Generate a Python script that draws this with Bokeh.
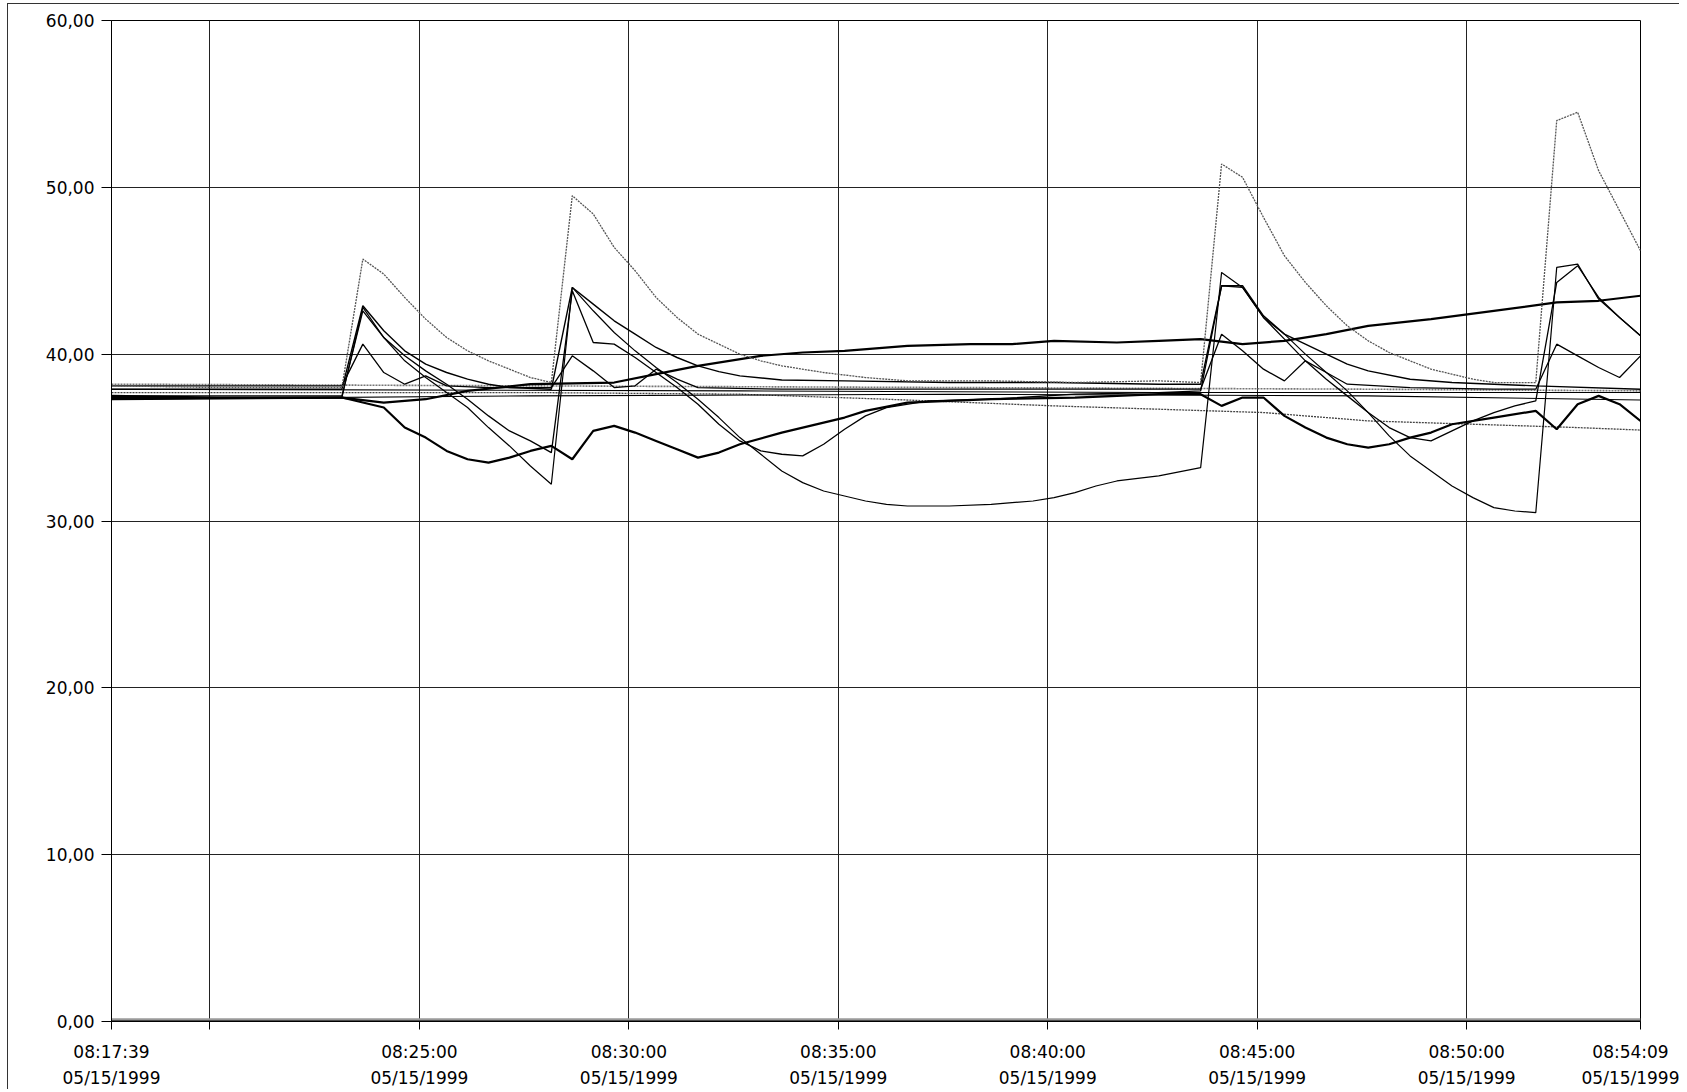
import pandas as pd
from bokeh.plotting import figure
from bokeh.models import Range1d, FixedTicker
from bokeh.embed import file_html
from bokeh.resources import INLINE

# ---------------- data ----------------
DAY = "1999-05-15"
DATE_LABEL = "05/15/1999"
T_START = "08:17:39"
T_END = "08:54:09"
STEP_SECONDS = 30  # one sample every 30 s; *_K lists are sample numbers

X_TICKS = ["08:17:39", "08:20:00", "08:25:00", "08:30:00", "08:35:00",
           "08:40:00", "08:45:00", "08:50:00", "08:54:09"]
X_TICK_SHOWN = [True, False, True, True, True, True, True, True, True]
Y_TICKS = [0, 10, 20, 30, 40, 50, 60]
Y_TICK_LABELS = ["0,00", "10,00", "20,00", "30,00", "40,00", "50,00", "60,00"]

S1_K = [0, 5, 11, 12, 13, 14, 15, 16, 17, 18, 19, 20, 21, 22, 23, 24, 25, 26, 27, 28, 29, 30, 31, 32,
        34, 36, 38, 42, 46, 50, 52, 53, 54, 55, 56, 57, 58, 59, 60, 61, 62, 63, 64, 65, 66,
        68, 69, 70, 71, 72, 73]
S1_V = [38.1, 38.0, 38.0, 45.7, 44.8, 43.4, 42.1, 41.0, 40.2, 39.6, 39.1, 38.6, 38.3,
        49.5, 48.4, 46.4, 45.0, 43.4, 42.2, 41.2, 40.6, 40.0, 39.6, 39.3,
        38.9, 38.6, 38.4, 38.4, 38.3, 38.4, 38.3,
        51.4, 50.6, 48.2, 45.9, 44.3, 42.9, 41.7, 40.8, 40.1, 39.6, 39.1, 38.8, 38.5, 38.3,
        38.3, 54.0, 54.5, 51.0, 48.6, 46.2]

S2_K = [0, 11, 12, 13, 14, 15, 16, 17, 18, 19, 21, 22, 23, 24, 25, 26, 27, 28, 29, 30,
        32, 35, 40, 45, 50, 52, 53, 54, 55, 56, 57, 58, 59, 60, 62, 64, 66, 68, 73]
S2_V = [37.9, 37.9, 42.9, 41.4, 40.2, 39.4, 38.9, 38.5, 38.2, 38.0, 37.9,
        44.0, 43.0, 42.0, 41.2, 40.4, 39.8, 39.3, 38.95, 38.7,
        38.45, 38.4, 38.3, 38.3, 38.2, 38.2,
        44.1, 44.1, 42.3, 41.2, 40.6, 40.0, 39.4, 39.0,
        38.5, 38.3, 38.2, 38.1, 37.9]

S3_K = [0, 11, 12, 13, 14, 15, 16, 17, 18, 19, 20, 21, 22, 23, 24, 25, 26, 27, 28, 29, 30, 31, 32, 33,
        34, 35, 36, 37, 39, 42, 46, 50, 52, 53, 54, 55, 56, 57, 58, 59, 60, 61, 62, 63, 64, 65, 66,
        67, 68, 69, 70, 71, 72, 73]
S3_V = [37.5, 37.5, 42.6, 41.0, 39.9, 39.0, 38.2, 37.3, 36.3, 35.4, 34.8, 34.1,
        43.8, 40.7, 40.6, 39.8, 38.9, 38.0, 37.0, 35.8, 34.8, 34.2, 34.0, 33.9,
        34.6, 35.5, 36.3, 36.8, 37.2, 37.3, 37.6, 37.7, 37.8,
        44.1, 44.0, 42.2, 40.9, 39.6, 38.5, 37.5, 36.5, 35.6, 35.0, 34.8, 35.4, 36.0, 36.5,
        36.9, 37.2, 44.3, 45.3, 43.4, 42.2, 41.1]

S4_K = [0, 11, 12, 13, 14, 15, 16, 18, 21, 22, 23, 24, 25, 26, 27, 28, 32, 40, 46, 52,
        53, 54, 55, 56, 57, 58, 59, 62, 66, 68, 69, 70, 71, 72, 73]
S4_V = [38.1, 38.1, 40.6, 38.9, 38.2, 38.7, 38.1, 38.0, 38.0,
        39.9, 39.0, 38.0, 38.1, 39.1, 38.5, 38.0, 37.9, 37.9, 37.9, 37.9,
        41.2, 40.2, 39.1, 38.4, 39.6, 38.9, 38.2, 38.0, 37.9, 37.9,
        40.6, 39.9, 39.2, 38.6, 39.9]

S5_K = [0, 11, 12, 13, 14, 15, 16, 17, 18, 19, 20, 21, 22, 23, 24, 25, 26, 27, 28, 29, 30,
        31, 32, 33, 34, 35, 36, 37, 38, 40, 42, 44, 45, 46, 47, 48, 50, 52,
        53, 54, 55, 56, 57, 58, 59, 60, 61, 62, 63, 64, 65, 66, 67, 68, 69, 70, 71, 72, 73]
S5_V = [37.4, 37.4, 42.8, 41.0, 39.6, 38.6, 37.7, 36.8, 35.6, 34.5, 33.3, 32.2,
        44.0, 42.6, 41.3, 40.2, 39.2, 38.3, 37.3, 36.2, 35.0, 34.0, 33.0, 32.3, 31.8, 31.5,
        31.2, 31.0, 30.9, 30.9, 31.0, 31.2, 31.4, 31.7, 32.1, 32.4, 32.7, 33.2,
        44.9, 44.0, 42.2, 41.2, 40.0, 38.9, 37.8, 36.5, 35.1, 33.9, 33.0, 32.1, 31.4, 30.8,
        30.6, 30.5, 45.2, 45.4, 43.3, 42.2, 41.1]

Q_K = [0, 11, 12, 13, 14, 15, 16, 17, 18, 19, 20, 21, 22, 23, 24, 25, 26, 27, 28, 29, 30,
       32, 34, 35, 36, 38, 40, 42, 46, 50, 52, 53, 54, 55, 56, 57, 58, 59, 60, 61, 62, 63, 64,
       66, 68, 69, 70, 71, 72, 73]
Q_V = [37.3, 37.4, 37.1, 36.8, 35.6, 35.0, 34.2, 33.7, 33.5, 33.8, 34.2, 34.5, 33.7, 35.4,
       35.7, 35.3, 34.8, 34.3, 33.8, 34.1, 34.6,
       35.3, 35.9, 36.2, 36.6, 37.1, 37.2, 37.3, 37.4, 37.6, 37.6,
       36.9, 37.4, 37.4, 36.3, 35.6, 35.0, 34.6, 34.4, 34.6, 35.0, 35.3, 35.8,
       36.2, 36.6, 35.5, 37.0, 37.5, 37.0, 36.0]

R_K = [0, 5, 11, 13, 15, 17, 20, 24, 26, 28, 31, 33, 35, 38, 41, 43, 45, 48, 50, 52,
       54, 56, 58, 60, 63, 66, 69, 71, 73]
R_V = [37.5, 37.4, 37.4, 37.1, 37.3, 37.8, 38.2, 38.3, 38.8, 39.3, 39.9, 40.1, 40.2, 40.5,
       40.6, 40.6, 40.8, 40.7, 40.8, 40.9, 40.6, 40.8, 41.2, 41.7, 42.1, 42.6, 43.1, 43.2, 43.5]

D_K = [0, 20, 30, 37, 45, 50, 55, 60, 65, 70, 73]
D_V = [37.7, 37.7, 37.6, 37.3, 36.9, 36.7, 36.5, 36.0, 35.8, 35.6, 35.45]

E1_K = [0, 20, 40, 60, 73]
E1_V = [38.2, 38.1, 38.0, 37.9, 37.8]
E2_K = [0, 30, 50, 73]
E2_V = [37.9, 37.8, 37.7, 37.7]
E3_K = [0, 20, 40, 60, 73]
E3_V = [37.3, 37.5, 37.6, 37.5, 37.25]

Z1_K = [0, 73]
Z1_V = [0.0, 0.0]
Z2_K = [0, 73]
Z2_V = [0.1, 0.1]

# ---------------- helpers ----------------
T0 = pd.Timestamp(f"{DAY} {T_START}")


def to_ms(ts):
    return ts.value / 1e6


def k_to_ms(ks):
    return [to_ms(T0 + pd.Timedelta(seconds=STEP_SECONDS * k)) for k in ks]


x_start = to_ms(T0)
x_end = to_ms(pd.Timestamp(f"{DAY} {T_END}"))
tick_ms = [to_ms(pd.Timestamp(f"{DAY} {t}")) for t in X_TICKS]

FONT = "DejaVu Sans"

p = figure(width=1672, height=1086, output_backend="svg", toolbar_location=None,
           x_range=Range1d(x_start, x_end), y_range=Range1d(0, 60),
           min_border_left=103, min_border_right=40, min_border_top=16, min_border_bottom=67,
           styles={"margin-left": "7px", "margin-top": "3px",
                   "border-left": "1px solid #333333", "border-top": "1px solid #333333"})
p.background_fill_color = "white"
p.border_fill_color = "white"
p.outline_line_color = "black"
p.outline_line_width = 1

# series: (K, V, color, width, dash)
series = [
    (Z2_K, Z2_V, "#9a9a9a", 3.0, "solid"),
    (Z1_K, Z1_V, "black", 2.0, "solid"),
    (E1_K, E1_V, "#777777", 1.6, "2 1"),
    (D_K, D_V, "#444444", 1.3, "2 1"),
    (E2_K, E2_V, "black", 1.1, "solid"),
    (E3_K, E3_V, "black", 1.1, "solid"),
    (S4_K, S4_V, "black", 1.3, "solid"),
    (S3_K, S3_V, "black", 1.3, "solid"),
    (S5_K, S5_V, "black", 1.2, "solid"),
    (S2_K, S2_V, "black", 1.4, "solid"),
    (Q_K, Q_V, "black", 2.2, "solid"),
    (R_K, R_V, "black", 2.2, "solid"),
    (S1_K, S1_V, "#555555", 1.3, "2 1"),
]
for ks, vs, col, w, dash in series:
    p.line(k_to_ms(ks), vs, line_color=col, line_width=w, line_dash=dash)

# axes
xa = p.xaxis[0]
xa.ticker = FixedTicker(ticks=tick_ms)
xa.major_label_overrides = {
    ms: (f"{t}\n{DATE_LABEL}" if shown else "")
    for ms, t, shown in zip(tick_ms, X_TICKS, X_TICK_SHOWN)
}
xa.minor_tick_line_color = None
xa.major_tick_in = 0
xa.major_tick_out = 8
xa.major_label_standoff = 12
xa.axis_line_color = "black"
xa.major_tick_line_color = "black"
xa.major_label_text_font = FONT
xa.major_label_text_font_size = "17px"
xa.major_label_text_color = "black"
xa.major_label_text_line_height = 1.3

ya = p.yaxis[0]
ya.ticker = FixedTicker(ticks=Y_TICKS)
ya.major_label_overrides = {v: lab for v, lab in zip(Y_TICKS, Y_TICK_LABELS)}
ya.minor_tick_line_color = None
ya.major_tick_in = 0
ya.major_tick_out = 10
ya.major_label_standoff = 7
ya.axis_line_color = "black"
ya.major_tick_line_color = "black"
ya.major_label_text_font = FONT
ya.major_label_text_font_size = "17px"
ya.major_label_text_color = "black"

p.xgrid.grid_line_color = "#222222"
p.xgrid.grid_line_width = 1
p.ygrid.grid_line_color = "#222222"
p.ygrid.grid_line_width = 1

open("out.html", "w").write(file_html(p, INLINE))
